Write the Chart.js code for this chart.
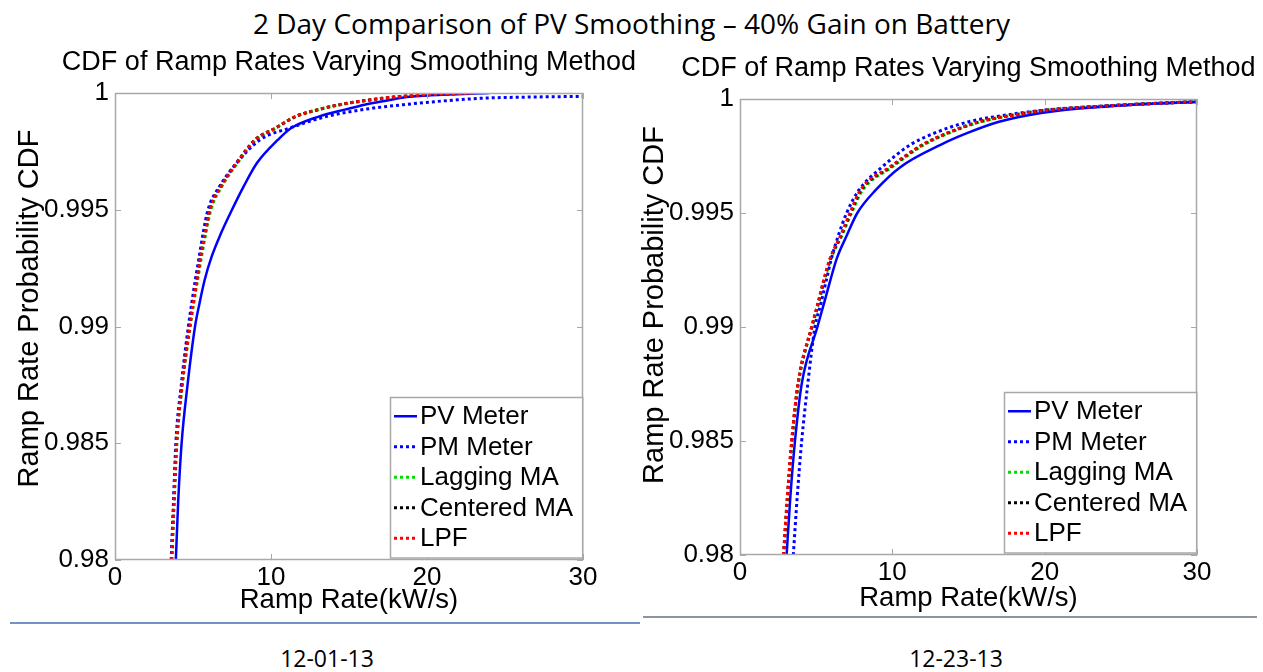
<!DOCTYPE html>
<html lang="en">
<head>
<meta charset="UTF-8">
<title>2 Day Comparison of PV Smoothing</title>
<script src="https://cdn.jsdelivr.net/npm/chart.js"></script>
<style>
    body { margin: 0; background: #fff; }
    #page { position: relative; width: 1263px; height: 672px; overflow: hidden; }
    .top-title {
        position: absolute; left: 0; top: 4px; width: 1263px;
        text-align: center; font: 28px "Open Sans", sans-serif; color: #000;
    }
    .box { position: absolute; }
    .rule { position: absolute; height: 2px; }
    .caption {
        position: absolute; top: 642px; width: 200px; text-align: center;
        font: 23px "Open Sans", sans-serif; color: #000;
    }
</style>
</head>
<body>
<div id="page">
    <div class="top-title">2 Day Comparison of PV Smoothing – 40% Gain on Battery</div>

    <div class="box" style="left:0; top:40px;">
        <canvas id="chartLeft" width="640" height="590"></canvas>
    </div>
    <div class="box" style="left:625px; top:46px;">
        <canvas id="chartRight" width="638" height="582"></canvas>
    </div>

    <div class="rule" style="left:10px; top:622px; width:630px; background:#6f93c4;"></div>
    <div class="rule" style="left:643px; top:616px; width:614px; background:#8a959f;"></div>

    <div class="caption" style="left:227px;">12-01-13</div>
    <div class="caption" style="left:856px;">12-23-13</div>
</div>

<script>
// CDF levels shared by every curve (y values)
const cdfLevels = [0.98, 0.9825, 0.985, 0.9875, 0.99, 0.991, 0.992, 0.993, 0.994, 0.995, 0.996,
                   0.997, 0.998, 0.9985, 0.999, 0.9993, 0.9995, 0.9997, 0.9998, 0.9999, 1.0];

const seriesNames = ['PV Meter', 'PM Meter', 'Lagging MA', 'Centered MA', 'LPF'];

// 12-01-13 : ramp rate (kW/s) reached at each CDF level
const dec01PV   = [3.9, 4.05, 4.27, 4.65, 5.13, 5.42, 5.75, 6.2, 6.8, 7.5, 8.25, 9.1, 10.45, 11.3, 13.1, 14.8, 16.0, 17.6, 18.4, 20.2, 24];
const dec01PM   = [3.6, 3.75, 3.9, 4.25, 4.7, 4.92, 5.15, 5.4, 5.65, 5.96, 6.7, 7.8, 9.3, 11.2, 13.6, 16.0, 18.5, 21.8, 24.5, 45, 60];
const dec01Lag  = [3.65, 3.8, 3.97, 4.32, 4.82, 5.05, 5.3, 5.55, 5.83, 6.15, 6.85, 7.85, 9.05, 10.3, 11.6, 13.1, 14.4, 16.3, 17.5, 19.3, 23];
const dec01Cent = [3.62, 3.77, 3.94, 4.28, 4.78, 5.0, 5.24, 5.48, 5.76, 6.07, 6.78, 7.78, 8.98, 10.3, 11.6, 13.1, 14.4, 16.3, 17.5, 19.3, 23];
const dec01LPF  = [3.63, 3.78, 3.95, 4.3, 4.8, 5.02, 5.26, 5.5, 5.78, 6.09, 6.8, 7.8, 9.0, 10.3, 11.6, 13.1, 14.4, 16.3, 17.5, 19.3, 23];

// 12-23-13
const dec23PV   = [3.06, 3.3, 3.61, 4.05, 5.08, 5.5, 5.91, 6.35, 7.0, 7.7, 8.9, 10.5, 13.2, 14.9, 17.0, 19.0, 21.0, 24.8, 27.5, 31.5, 40];
const dec23PM   = [3.5, 3.75, 4.05, 4.45, 4.92, 5.3, 5.65, 6.0, 6.45, 7.0, 7.8, 9.3, 11.2, 12.75, 15.0, 17.5, 19.8, 24.0, 27.0, 31, 40];
const dec23Lag  = [2.87, 3.12, 3.42, 3.83, 4.73, 5.15, 5.53, 5.98, 6.68, 7.32, 8.05, 9.95, 12.1, 13.7, 15.8, 18.0, 20.0, 24.2, 27.0, 31, 40];
const dec23Cent = [2.86, 3.11, 3.4, 3.81, 4.71, 5.11, 5.49, 5.93, 6.63, 7.26, 7.95, 9.85, 12.0, 13.6, 15.7, 18.0, 20.0, 24.2, 27.0, 31, 40];
const dec23LPF  = [2.85, 3.1, 3.39, 3.8, 4.7, 5.1, 5.47, 5.91, 6.6, 7.22, 7.9, 9.8, 12.0, 13.6, 15.7, 18.0, 20.0, 24.2, 27.0, 31, 40];

const xTicks = [0, 10, 20, 30];
const yTicks = [0.98, 0.985, 0.99, 0.995, 1];

const FONT = '"Liberation Sans", Arial, sans-serif';

// line look for each series (same order as seriesNames)
const styles = [
    { color: '#0000ff', dash: [],     width: 2.5, order: 1 },
    { color: '#0000ff', dash: [3, 3], width: 3,   order: 2 },
    { color: '#00dd00', dash: [3, 3], width: 3,   order: 4 },
    { color: '#000000', dash: [3, 3], width: 3,   order: 3 },
    { color: '#ff0000', dash: [3, 3], width: 3,   order: 0 }
];

// MATLAB style frame with inward ticks
const frameTicks = {
    id: 'frameTicks',
    afterDatasetsDraw(chart) {
        const { ctx, chartArea: a, scales: { x, y } } = chart;
        ctx.save();
        ctx.strokeStyle = '#a8a8a8';
        ctx.lineWidth = 1;
        ctx.beginPath();
        xTicks.forEach(v => {
            const px = Math.round(x.getPixelForValue(v)) + 0.5;
            ctx.moveTo(px, a.bottom); ctx.lineTo(px, a.bottom - 6);
            ctx.moveTo(px, a.top); ctx.lineTo(px, a.top + 6);
        });
        yTicks.forEach(v => {
            const py = Math.round(y.getPixelForValue(v)) + 0.5;
            ctx.moveTo(a.left, py); ctx.lineTo(a.left + 6, py);
            ctx.moveTo(a.right, py); ctx.lineTo(a.right - 6, py);
        });
        ctx.stroke();
        ctx.lineWidth = 1.5;
        ctx.strokeRect(Math.round(a.left) + 0.5, Math.round(a.top) + 0.5,
                       Math.round(a.width) - 1, Math.round(a.height) - 1);
        ctx.restore();
    }
};

// plot title centred over the plot box, y title a little above the middle
const plotTexts = {
    id: 'plotTexts',
    afterDraw(chart, args, opts) {
        const { ctx, chartArea: a } = chart;
        ctx.save();
        ctx.fillStyle = '#000';
        ctx.textAlign = 'center';
        ctx.textBaseline = 'middle';
        ctx.font = '27px ' + FONT;
        ctx.fillText(opts.title, (a.left + a.right) / 2, a.top - 30);
        ctx.font = '29px ' + FONT;
        ctx.translate(30, (a.top + a.bottom) / 2 - opts.yTitleShift);
        ctx.rotate(-Math.PI / 2);
        ctx.fillText(opts.yTitle, 0, 0);
        ctx.restore();
    }
};

// legend box in the lower right corner of the plot
const boxLegend = {
    id: 'boxLegend',
    afterDraw(chart) {
        const { ctx, chartArea: a } = chart;
        const sets = chart.data.datasets;
        ctx.save();
        ctx.font = '26px ' + FONT;
        const textW = Math.max(...sets.map(d => ctx.measureText(d.label).width));
        const rowH = 30.5, padL = 4, sample = 23, gap = 3, padR = 9, padV = 4;
        const w = padL + sample + gap + textW + padR;
        const h = rowH * sets.length + padV * 2;
        const x0 = Math.round(a.right - 1 - w), y0 = Math.round(a.bottom - 3 - h);
        ctx.fillStyle = '#fff';
        ctx.fillRect(x0, y0, w, h);
        ctx.strokeStyle = '#a8a8a8';
        ctx.lineWidth = 1.5;
        ctx.strokeRect(x0 + 0.5, y0 + 0.5, w, h);
        sets.forEach((d, i) => {
            const cy = y0 + padV + rowH * i + rowH / 2;
            ctx.beginPath();
            ctx.setLineDash(d.borderDash || []);
            ctx.strokeStyle = d.borderColor;
            ctx.lineWidth = d.borderWidth;
            ctx.moveTo(x0 + padL, cy);
            ctx.lineTo(x0 + padL + sample, cy);
            ctx.stroke();
            ctx.setLineDash([]);
            ctx.fillStyle = '#000';
            ctx.textBaseline = 'middle';
            ctx.fillText(d.label, x0 + padL + sample + gap, cy + 1);
        });
        ctx.restore();
    }
};

function makeDatasets(xsList) {
    return xsList.map((xs, i) => ({
        label: seriesNames[i],
        data: cdfLevels.map((lvl, k) => ({ x: xs[k], y: lvl })),
        borderColor: styles[i].color,
        borderDash: styles[i].dash,
        borderWidth: styles[i].width,
        order: styles[i].order,
        pointRadius: 0,
        fill: false,
        cubicInterpolationMode: 'monotone'
    }));
}

function renderChart(id, xsList, padRight, xAxisHeight, yTitleShift) {
    const ctx = document.getElementById(id).getContext('2d');
    new Chart(ctx, {
        type: 'line',
        data: { datasets: makeDatasets(xsList) },
        options: {
            responsive: false,
            animation: false,
            layout: { padding: { top: 53, right: padRight, bottom: 0, left: 0 } },
            plugins: {
                legend: { display: false },
                tooltip: { enabled: false },
                plotTexts: {
                    title: 'CDF of Ramp Rates Varying Smoothing Method',
                    yTitle: 'Ramp Rate Probability CDF',
                    yTitleShift: yTitleShift
                }
            },
            scales: {
                x: {
                    type: 'linear', min: 0, max: 30,
                    grid: { display: false, drawTicks: false },
                    border: { display: false },
                    afterBuildTicks: s => { s.ticks = xTicks.map(v => ({ value: v })); },
                    afterFit: s => { s.height = xAxisHeight; },
                    ticks: { color: '#000', padding: 2, font: { family: FONT, size: 26 } },
                    title: {
                        display: true, text: 'Ramp Rate(kW/s)', color: '#000',
                        font: { family: FONT, size: 27.5, lineHeight: 1.2 },
                        padding: { top: 0, bottom: 13.5 }
                    }
                },
                y: {
                    type: 'linear', min: 0.98, max: 1,
                    grid: { display: false, drawTicks: false },
                    border: { display: false },
                    afterBuildTicks: s => { s.ticks = yTicks.map(v => ({ value: v })); },
                    afterFit: s => { s.width = 115; },
                    ticks: {
                        color: '#000', padding: 6, font: { family: FONT, size: 26 },
                        callback: v => String(+Number(v).toFixed(3))
                    }
                }
            }
        },
        plugins: [frameTicks, plotTexts, boxLegend]
    });
}

renderChart('chartLeft', [dec01PV, dec01PM, dec01Lag, dec01Cent, dec01LPF], 57, 70, 18);
renderChart('chartRight', [dec23PV, dec23PM, dec23Lag, dec23Cent, dec23LPF], 66, 73, 22);
</script>
</body>
</html>
